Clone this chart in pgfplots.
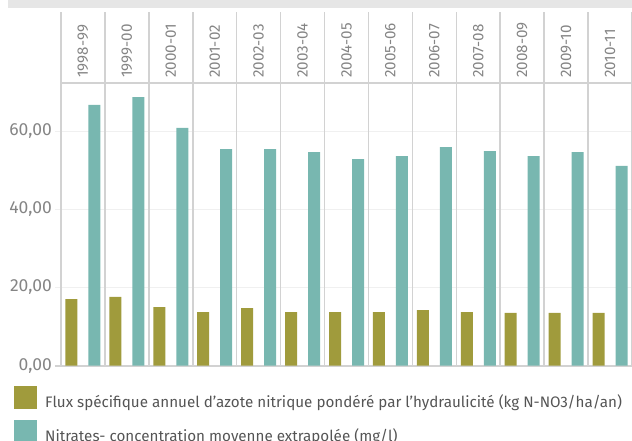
\documentclass[border=0pt]{standalone}
\usepackage{fontspec}
\setmainfont{Fira Sans}
\usepackage{pgfplots}
\pgfplotsset{compat=1.18}
\definecolor{fluxOl}{HTML}{A09B3C}
\definecolor{nitrTl}{HTML}{78B7B0}
\definecolor{bandGray}{HTML}{E6E6E6}
\definecolor{sepGray}{HTML}{D2D2D2}
\definecolor{gridGray}{HTML}{F0F0F0}
\definecolor{tickGray}{HTML}{858585}
\definecolor{legGray}{HTML}{555555}

\begin{document}
\begin{tikzpicture}[x=1pt,y=1pt]
  \path[use as bounding box] (0,0) rectangle (632,440);
  \fill[bandGray] (8,432) rectangle (632,440);
  \begin{axis}[at={(61pt,74.3pt)}, anchor=south west, scale only axis,
      width=571pt, height=282.7pt, xmin=-0.5, xmax=12.5, ymin=0, ymax=72.3,
      clip=false, ybar, bar width=12pt,
      axis line style={draw=none}, major tick length=0pt,
      xtick={0,...,12}, xticklabel pos=upper,
      xticklabels={1998-99,1999-00,2000-01,2001-02,2002-03,2003-04,2004-05,2005-06,2006-07,2007-08,2008-09,2009-10,2010-11},
      xticklabel style={rotate=90, anchor=west, inner sep=0pt, xshift=5pt,
        text=tickGray, font=\fontsize{15.2}{17}\selectfont},
      ytick={0,20,40,60}, yticklabels={0{,}00,20{,}00,40{,}00,60{,}00},
      yticklabel style={anchor=east, inner sep=0pt, xshift=-9pt,
        text=tickGray, font=\fontsize{17.5}{19}\selectfont},
      legend image code/.code={\fill[#1] (0pt,-7.6pt) rectangle (23pt,15.4pt);},
      legend style={at={(-0.0823,-0.0718)}, anchor=north west, draw=none, fill=none,
        inner sep=0pt, nodes={inner sep=0pt, text=legGray}, row sep=11pt,
        /tikz/every odd column/.style={column sep=8pt},
        font=\fontsize{15.2}{17}\selectfont},
      legend cell align=left]
    \pgfplotsinvokeforeach{20,40,60}{
      \draw[gridGray, line width=1pt] (axis cs:-0.637,#1) -- (axis cs:12.5,#1);}
    \pgfplotsinvokeforeach{0,...,13}{
      \draw[sepGray, line width=1.5pt] (axis cs:#1-0.5,0) -- (axis cs:#1-0.5,90.5);}
    \draw[sepGray, line width=1.5pt] (axis cs:-0.5,72.3) -- (axis cs:12.5,72.3);
    \draw[sepGray, line width=1.8pt] (axis cs:-0.637,0) -- (axis cs:12.5,0);
    \addplot[fill=fluxOl, draw=none, /pgf/bar shift=-11.5pt] coordinates {
      (0,17.0) (1,17.6) (2,15.0) (3,13.7) (4,14.7) (5,13.7) (6,13.7)
      (7,13.7) (8,14.2) (9,13.7) (10,13.5) (11,13.5) (12,13.5)};
    \addplot[fill=nitrTl, draw=none, /pgf/bar shift=11.5pt] coordinates {
      (0,66.7) (1,68.7) (2,60.8) (3,55.4) (4,55.4) (5,54.6) (6,52.8)
      (7,53.6) (8,55.9) (9,54.9) (10,53.6) (11,54.6) (12,51.1)};
    \legend{Flux spécifique annuel d’azote nitrique pondéré par l’hydraulicité (kg N-NO3/ha/an),
      Nitrates- concentration moyenne extrapolée (mg/l)}
  \end{axis}
\end{tikzpicture}
\end{document}
